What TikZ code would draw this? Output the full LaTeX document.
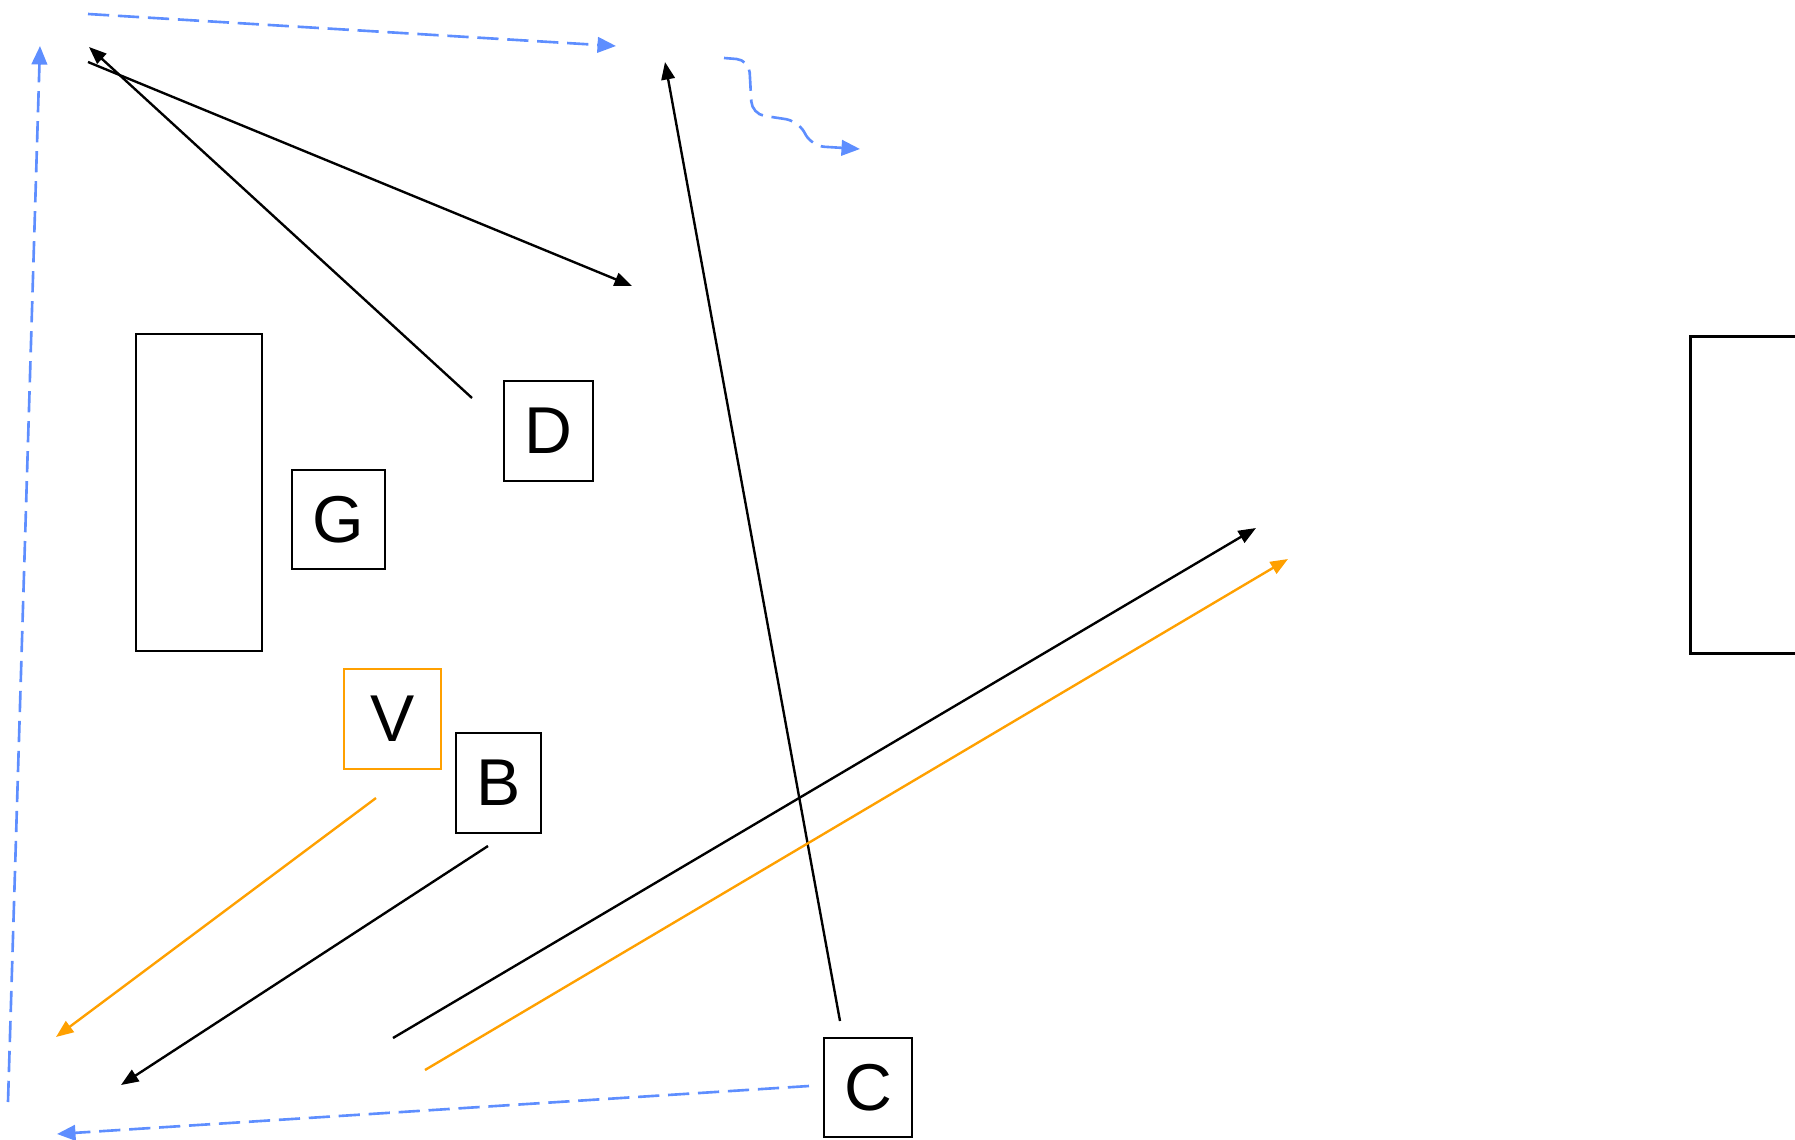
\documentclass[tikz,border=0pt]{standalone}
\usepackage{fontspec}
\setmainfont{Liberation Sans}
\usetikzlibrary{arrows.meta}
\definecolor{myblue}{RGB}{94,142,255}
\definecolor{myorange}{RGB}{255,160,0}
\begin{document}
\begin{tikzpicture}[x=0.4pt,y=-0.4pt,
  box/.style={draw, line width=1pt, inner sep=0pt, font=\fontsize{26.5}{30}\selectfont},
  conn/.style={line width=0.95pt, -{Triangle[length=7pt,width=5.4pt]}},
  oconn/.style={myorange, line width=0.95pt, -{Triangle[length=7pt,width=5.4pt]}},
  bconn/.style={myblue, line width=1.05pt, dash pattern=on 8.5pt off 3.5pt, -{Triangle[length=7.4pt,width=6.2pt]}}]
\useasboundingbox (0,0) rectangle (1795,1140);
% boxes
\node[box, minimum width=50.4pt, minimum height=126.8pt] (L) at (199,492.5) {};
\node[box, minimum width=84.4pt, minimum height=126.8pt, anchor=north west] (R) at (1689,335) {};
\node[box, minimum width=37.2pt, minimum height=39.6pt] (G) at (338.5,519.5) {G};
\node[box, minimum width=35.6pt, minimum height=40pt] (D) at (548.5,431) {D};
\node[box, draw=myorange, minimum width=38.8pt, minimum height=40pt] (V) at (392.5,719) {V};
\node[box, minimum width=34pt, minimum height=40pt] (B) at (498.5,783) {B};
\node[box, minimum width=35.2pt, minimum height=39.6pt] (C) at (868,1087.5) {C};
% free ends
\coordinate (t0) at (88,14);   \coordinate (t1) at (616,46);
\coordinate (l0) at (8,1102);  \coordinate (l1) at (40,46);
\coordinate (a0) at (88,62);   \coordinate (a1) at (632,286);
\coordinate (d0) at (472,398); \coordinate (d1) at (89,47);
\coordinate (c0) at (840,1021);\coordinate (c1) at (665,62);
\coordinate (e0) at (809,1086);\coordinate (e1) at (57,1134);
\coordinate (v0) at (376,798); \coordinate (v1) at (56,1037);
\coordinate (b0) at (488,846); \coordinate (b1) at (121,1085);
\coordinate (k0) at (393,1038);\coordinate (k1) at (1256,528);
\coordinate (o0) at (425,1070);\coordinate (o1) at (1288,559);
\coordinate (w0) at (724,58);  \coordinate (w1) at (860,149);
% connectors
\draw[bconn] (t0) -- (t1);
\draw[bconn] (l0) -- (l1);
\draw[conn] (a0) -- (a1);
\draw[conn] (d0) -- (d1);
\draw[conn] (c0) -- (c1);
\draw[bconn] (e0) -- (e1);
\draw[oconn] (v0) -- (v1);
\draw[conn] (b0) -- (b1);
\draw[conn] (k0) -- (k1);
\draw[oconn] (o0) -- (o1);
\draw[bconn, rounded corners=5pt] (w0) -- (749,60) -- (752,114) -- (798,121) -- (812,146) -- (w1);
\end{tikzpicture}
\end{document}
